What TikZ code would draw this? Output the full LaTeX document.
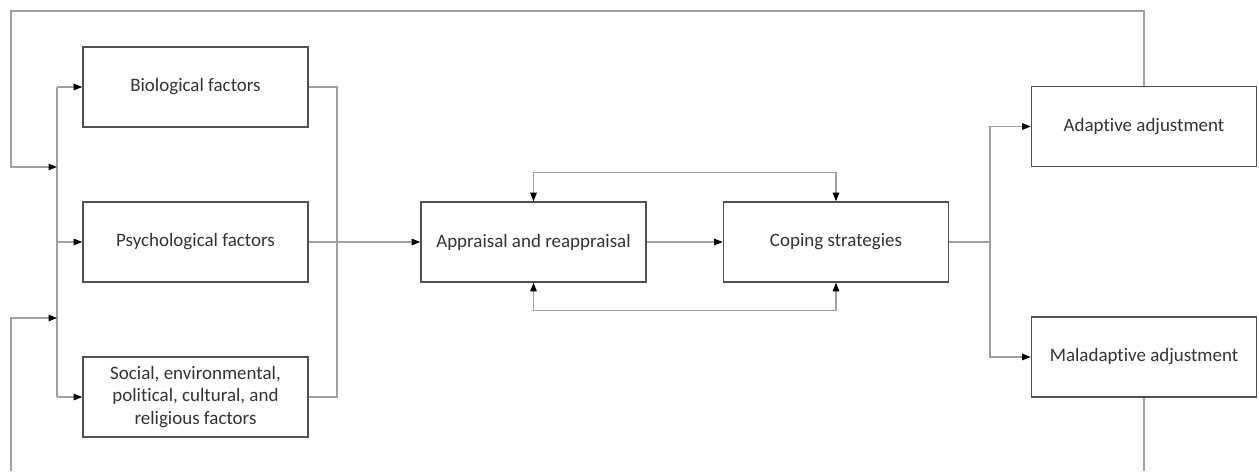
\documentclass[tikz,border=0pt]{standalone}
\usepackage{fontspec}
\setmainfont{Carlito}[Ligatures={NoCommon}]
\usepackage{tikz}
\usetikzlibrary{arrows.meta, positioning}
\definecolor{linegray}{RGB}{160,160,160}
\definecolor{boxgray}{RGB}{80,80,80}

\tikzset{
  box/.style={draw=boxgray, line width=0.9pt, minimum width=4.5cm, minimum height=1.6cm,
    align=center, inner sep=2pt, font=\fontsize{10.8}{12.6}\selectfont, text=black!80},
  link/.style={draw=linegray, line width=0.65pt},
  arr/.style={link, -{Triangle[length=1.7mm, width=1.3mm, color=black]}},
  dblarr/.style={link, {Triangle[length=1.7mm, width=1.3mm, color=black]}-{Triangle[length=1.7mm, width=1.3mm, color=black]}}
}

\begin{document}
\begin{tikzpicture}[x=0.02cm, y=-0.02cm]
  \useasboundingbox (0,0) rectangle (1259,471);
  % fatores
  \node[box] (bio)    at (195.5,87)  {Biological factors};
  \node[box] (psych)  at (195.5,242) {Psychological factors};
  \node[box] (social) at (195.5,397) {Social, environmental,\\political, cultural, and\\religious factors};
  % processo
  \node[box] (appr) at (533.5,242) {Appraisal and reappraisal};
  \node[box] (cope) at (836,242)   {Coping strategies};
  % resultados
  \node[box] (adapt) at (1144,126.5) {Adaptive adjustment};
  \node[box] (malad) at (1144,357)   {Maladaptive adjustment};

  % pontos auxiliares
  \coordinate (busA)  at (57,167);
  \coordinate (busB)  at (57,318);
  \coordinate (topL)  at (11,11);
  \coordinate (botL)  at (11,471);
  \coordinate (botR)  at (1144,471);
  \coordinate (join)  at (337,242);
  \coordinate (split) at (990,242);

  % barramento da esquerda
  \draw[link] (bio.west -| busA) -- (social.west -| busA);
  \draw[arr] (bio.west -| busA) -- (bio.west);
  \draw[arr] (psych.west -| busA) -- (psych.west);
  \draw[arr] (social.west -| busA) -- (social.west);

  % retornos
  \draw[arr] (adapt.north) |- (topL) |- (busA);
  \draw[link] (malad.south) -- (botR);
  \draw[arr] (botL) |- (busB);

  % para a avalia\c{c}\~ao
  \draw[link] (bio.east) -| (join) |- (social.east);
  \draw[arr] (psych.east) -- (appr.west);
  \draw[arr] (appr.east) -- (cope.west);
  \draw[dblarr] (appr.north) -- ++(0,-29) -| (cope.north);
  \draw[dblarr] (appr.south) -- ++(0,28) -| (cope.south);

  % para os resultados
  \draw[link] (cope.east) -- (split);
  \draw[arr] (split) |- (adapt.west);
  \draw[arr] (split) |- (malad.west);
\end{tikzpicture}
\end{document}
